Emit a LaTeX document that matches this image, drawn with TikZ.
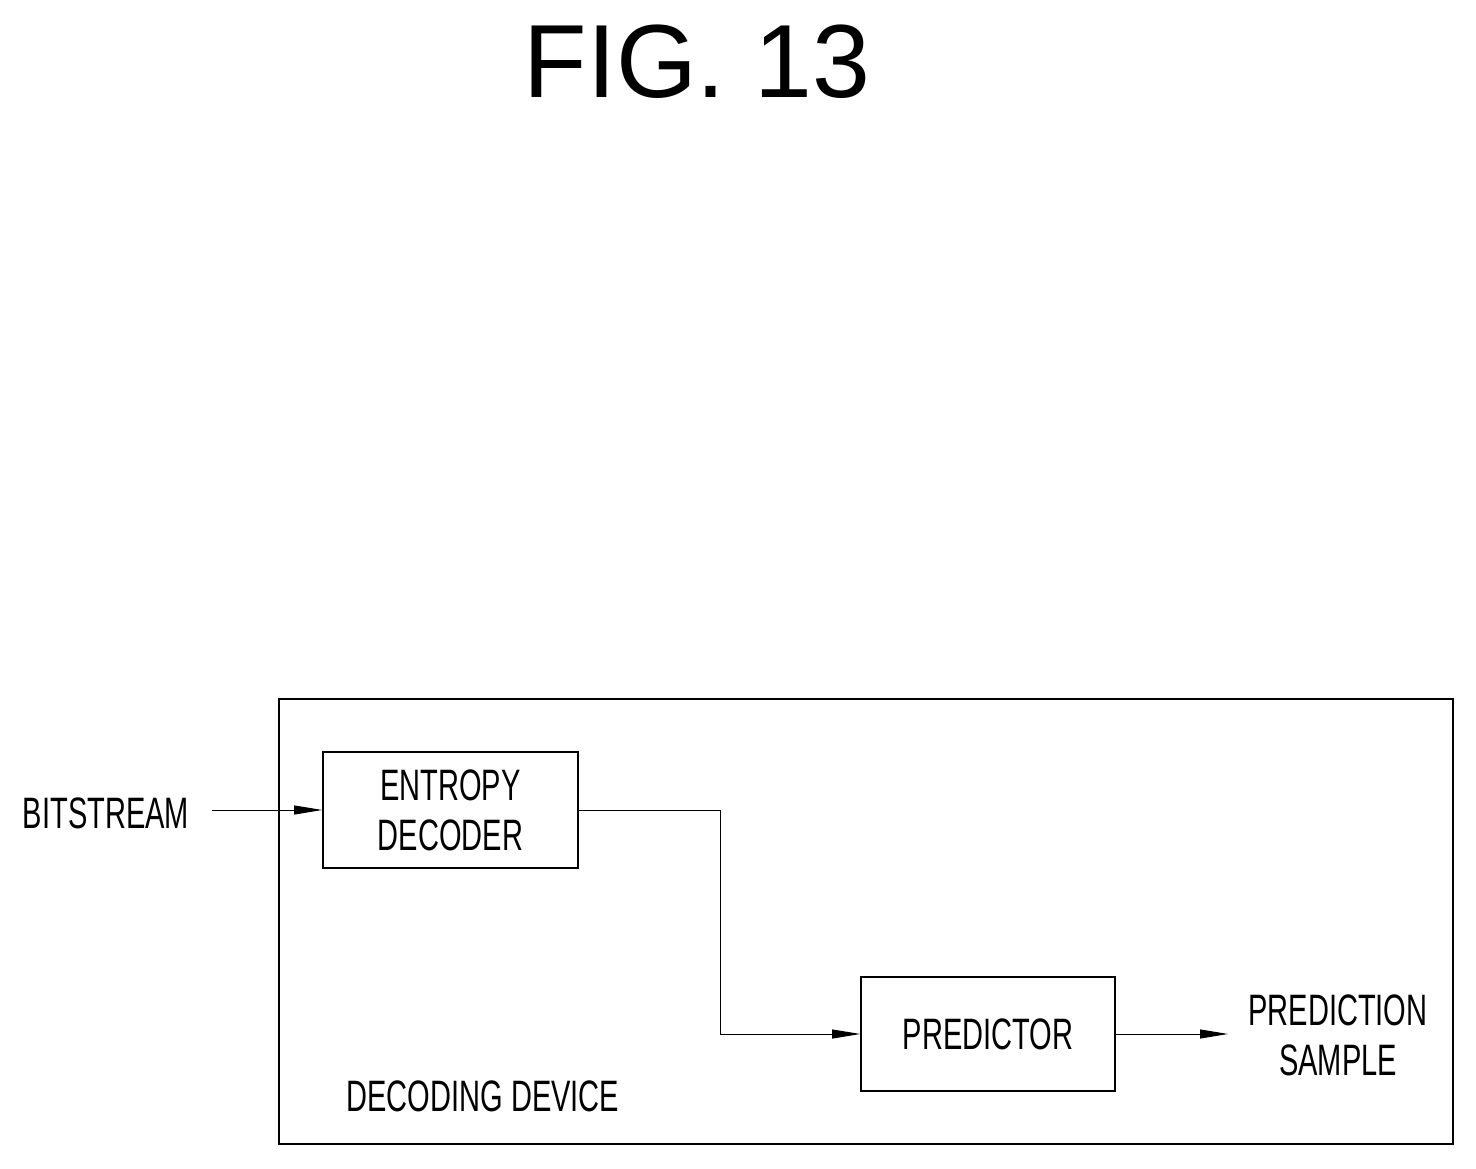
\documentclass[tikz,border=0pt]{standalone}
\usepackage{fontspec}
\setmainfont{Liberation Sans}
\newfontfamily\narrowf[FakeStretch=0.66]{Liberation Sans}
\usetikzlibrary{arrows.meta}
\begin{document}
\begin{tikzpicture}[x=1pt,y=-1pt,
  lbl/.style={font=\narrowf\fontsize{44}{50}\selectfont,align=center,inner sep=0},
  box/.style={draw,line width=1.6pt},
  con/.style={line width=1pt},
  arr/.style={con,-{Triangle[length=28pt,width=9pt]}}]
\useasboundingbox (0,0) rectangle (1476,1168);
\node[font=\fontsize{104}{110}\selectfont,inner sep=0] (fig) at (697,62) {FIG. 13};
\draw[box] (279,699) rectangle (1453,1144);
\node[box,minimum width=255pt,minimum height=116pt,inner sep=0] (ent) at (450.5,810) {};
\node[lbl] at (ent.center) {ENTROPY\\DECODER};
\node[box,minimum width=254pt,minimum height=114pt,inner sep=0] (pred) at (988,1034) {};
\node[lbl] at (pred.center) {PREDICTOR};
\node[lbl] (bs) at (106,813) {BITSTREAM};
\node[lbl] (ps) at (1338,1035) {PREDICTION\\SAMPLE};
\node[lbl] (dd) at (483,1096) {DECODING DEVICE};
\coordinate (a) at (212,810);
\draw[arr] (a) -- (ent.west);
\draw[arr] (ent.east) -- (720,810) |- (pred.west);
\coordinate (b) at (1228,1034);
\draw[arr] (pred.east) -- (b);
\end{tikzpicture}
\end{document}
